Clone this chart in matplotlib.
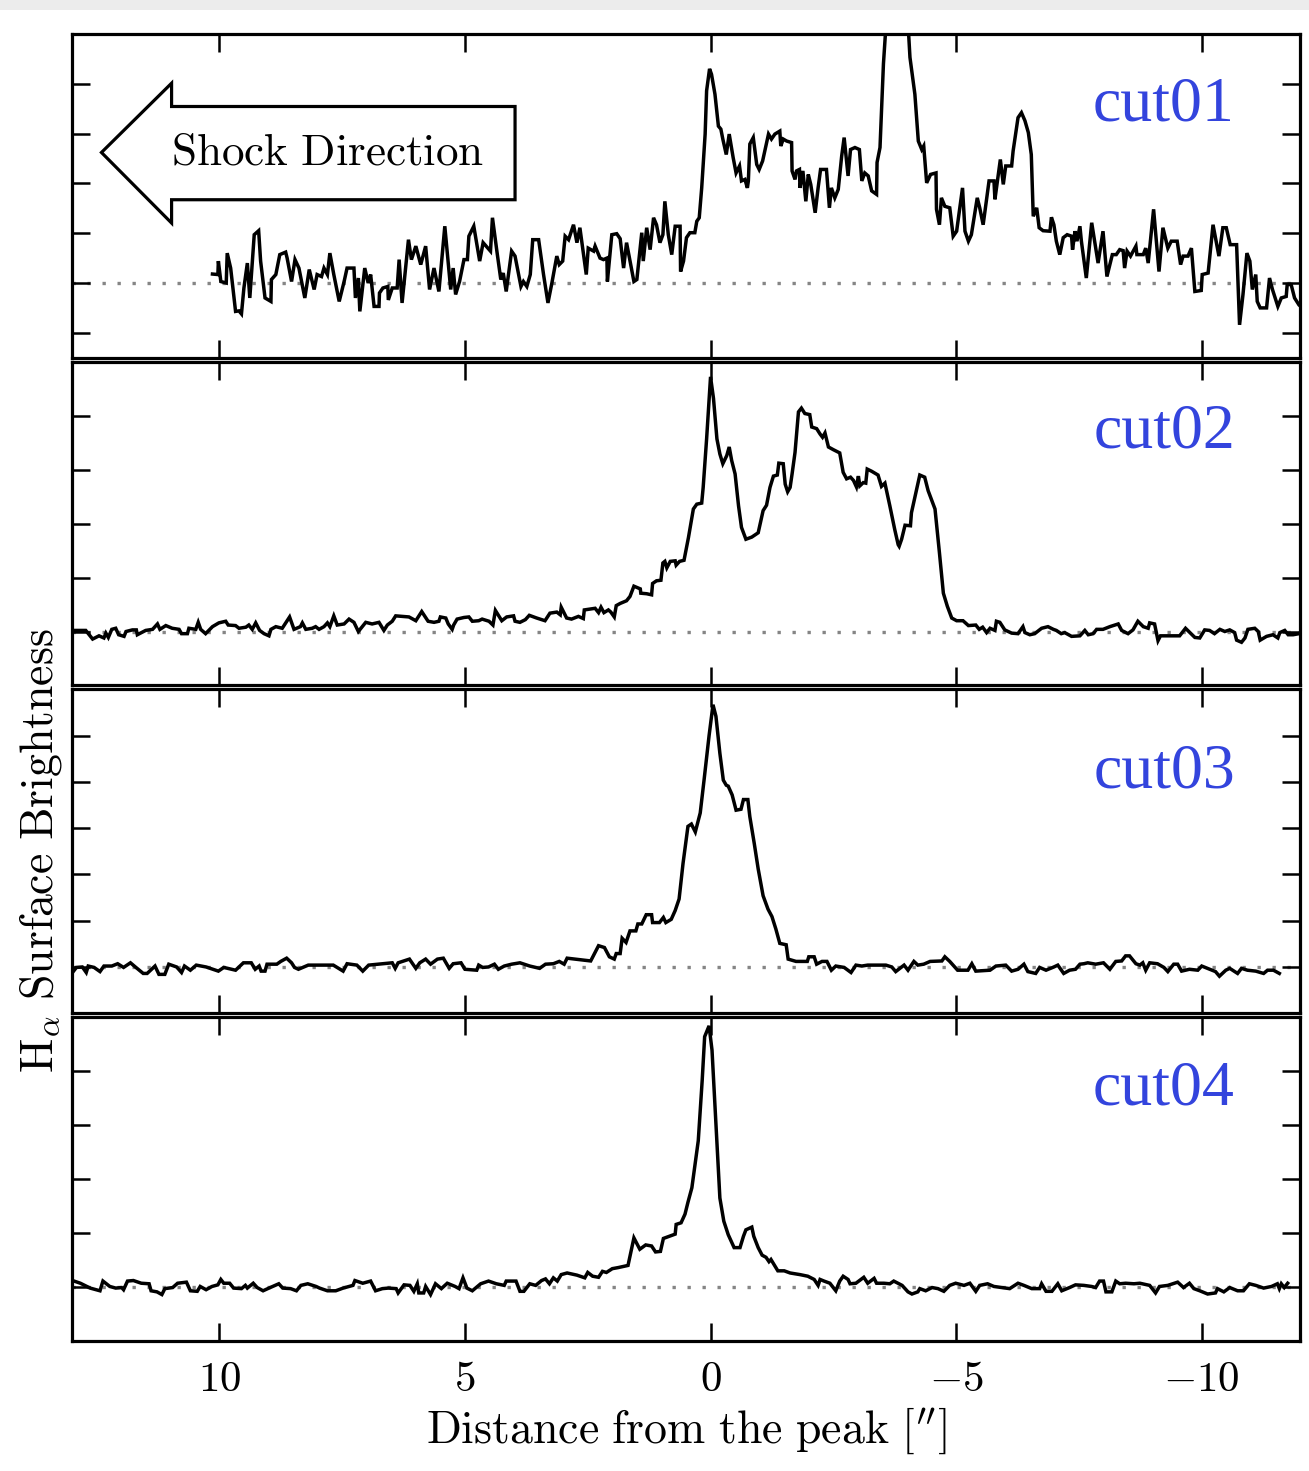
import numpy as np
import matplotlib
matplotlib.use("Agg")
import matplotlib.pyplot as plt
from matplotlib.patches import Polygon, Rectangle
from matplotlib.ticker import FixedLocator, FuncFormatter, MultipleLocator

plt.rcParams["mathtext.fontset"] = "cm"

# H-alpha surface-brightness profiles along four cuts: (offset ["], brightness)
cut01_profile = [
    (10.14, 0.18), (10.03, 0.17), (10.02, 0.44), (9.97, 0.03), (9.86, 0.00), (9.84, 0.60),
    (9.77, 0.30), (9.67, -0.57), (9.60, -0.56), (9.55, -0.62), (9.50, -0.10), (9.43, 0.40),
    (9.38, -0.30), (9.29, 0.97), (9.20, 1.05), (9.16, 0.44), (9.07, -0.30), (8.95, -0.37),
    (8.94, 0.07), (8.85, 0.17), (8.77, 0.57), (8.65, 0.62), (8.62, 0.50), (8.53, 0.03),
    (8.46, 0.47), (8.38, 0.30), (8.26, -0.30), (8.17, 0.27), (8.07, -0.13), (8.01, 0.17),
    (7.92, 0.13), (7.87, 0.30), (7.80, 0.17), (7.75, 0.60), (7.67, 0.17), (7.56, -0.37),
    (7.46, 0.03), (7.40, 0.30), (7.26, 0.30), (7.23, -0.30), (7.17, 0.10), (7.14, -0.57),
    (7.04, 0.30), (6.97, 0.00), (6.92, 0.17), (6.85, -0.47), (6.75, -0.47), (6.74, -0.20),
    (6.67, -0.10), (6.57, -0.07), (6.56, -0.34), (6.48, -0.10), (6.38, -0.10), (6.34, 0.47),
    (6.28, -0.40), (6.15, 0.87), (6.09, 0.47), (6.00, 0.74), (5.90, 0.37), (5.80, 0.74),
    (5.72, -0.13), (5.63, 0.30), (5.53, -0.17), (5.41, 1.14), (5.29, -0.13), (5.24, 0.30),
    (5.19, -0.23), (5.11, 0.03), (5.02, 0.47), (4.95, 0.47), (4.92, 0.94), (4.82, 1.14),
    (4.70, 0.44), (4.63, 0.81), (4.48, 0.64), (4.44, 1.31), (4.35, 0.64), (4.27, 0.07),
    (4.22, 0.20), (4.16, -0.17), (4.05, 0.64), (3.98, 0.54), (3.86, -0.07), (3.81, 0.03),
    (3.74, -0.07), (3.67, 0.17), (3.62, 0.87), (3.50, 0.87), (3.40, 0.17), (3.31, -0.40),
    (3.23, 0.00), (3.13, 0.54), (3.08, 0.37), (3.01, 0.44), (2.96, 0.94), (2.89, 0.87),
    (2.79, 1.17), (2.72, 0.81), (2.66, 1.11), (2.53, 0.17), (2.49, 0.70), (2.38, 0.64),
    (2.35, 0.74), (2.25, 0.50), (2.18, 0.47), (2.11, 0.50), (2.10, 0.03), (2.01, 0.97),
    (1.91, 0.99), (1.84, 0.89), (1.77, 0.30), (1.71, 0.81), (1.60, 0.23), (1.56, 0.03),
    (1.50, 0.07), (1.40, 1.01), (1.37, 0.44), (1.30, 1.11), (1.23, 0.67), (1.16, 1.31),
    (1.10, 1.17), (1.03, 0.81), (0.97, 0.97), (0.93, 1.64), (0.86, 0.97), (0.79, 0.57),
    (0.72, 1.14), (0.62, 1.14), (0.61, 0.23), (0.55, 0.44), (0.49, 0.91), (0.42, 1.01),
    (0.32, 1.01), (0.28, 1.24), (0.23, 1.31), (0.18, 1.91), (0.11, 2.99), (0.08, 3.86),
    (0.02, 4.30), (-0.02, 4.19), (-0.09, 3.79), (-0.16, 3.15), (-0.21, 3.09), (-0.25, 2.89),
    (-0.32, 2.58), (-0.38, 2.99), (-0.46, 2.52), (-0.52, 2.21), (-0.59, 2.35), (-0.63, 2.05),
    (-0.70, 2.08), (-0.75, 1.91), (-0.77, 2.05), (-0.80, 2.79), (-0.87, 2.92), (-0.94, 2.38),
    (-0.99, 2.28), (-1.06, 2.45), (-1.18, 2.99), (-1.24, 2.89), (-1.31, 2.99), (-1.41, 3.05),
    (-1.43, 2.75), (-1.48, 2.89), (-1.55, 2.85), (-1.65, 2.82), (-1.66, 2.25), (-1.72, 2.08),
    (-1.75, 2.25), (-1.81, 2.28), (-1.82, 1.91), (-1.88, 2.25), (-1.90, 2.05), (-1.94, 1.64),
    (-1.99, 2.18), (-2.04, 1.98), (-2.13, 1.41), (-2.19, 1.91), (-2.24, 2.28), (-2.36, 2.28),
    (-2.42, 1.51), (-2.46, 1.91), (-2.53, 1.71), (-2.60, 1.88), (-2.67, 2.55), (-2.72, 2.92),
    (-2.80, 2.15), (-2.85, 2.68), (-2.94, 2.72), (-3.03, 2.68), (-3.08, 2.05), (-3.14, 2.21),
    (-3.21, 2.15), (-3.28, 1.85), (-3.38, 1.78), (-3.39, 2.42), (-3.45, 2.72), (-3.52, 4.40),
    (-3.58, 5.30), (-3.70, 6.20), (-3.85, 6.60), (-3.97, 5.90), (-4.03, 5.05), (-4.06, 4.53),
    (-4.16, 3.79), (-4.23, 2.85), (-4.30, 2.68), (-4.34, 2.75), (-4.40, 2.01), (-4.48, 2.18),
    (-4.59, 2.21), (-4.60, 1.48), (-4.66, 1.17), (-4.70, 1.71), (-4.77, 1.54), (-4.87, 1.51),
    (-4.94, 0.94), (-5.01, 1.04), (-5.13, 1.91), (-5.18, 1.04), (-5.25, 0.84), (-5.31, 0.97),
    (-5.43, 1.71), (-5.48, 1.51), (-5.55, 1.17), (-5.67, 2.05), (-5.77, 2.05), (-5.79, 1.68),
    (-5.84, 2.05), (-5.90, 2.48), (-5.96, 1.98), (-6.01, 2.35), (-6.13, 2.35), (-6.16, 2.65),
    (-6.26, 3.32), (-6.33, 3.42), (-6.40, 3.26), (-6.47, 3.02), (-6.53, 2.58), (-6.57, 1.34),
    (-6.64, 1.51), (-6.69, 1.11), (-6.77, 1.05), (-6.91, 1.04), (-6.94, 1.32), (-6.99, 1.17),
    (-7.04, 0.84), (-7.11, 0.57), (-7.18, 0.91), (-7.26, 0.97), (-7.35, 0.94), (-7.37, 0.67),
    (-7.42, 1.04), (-7.46, 0.84), (-7.52, 1.14), (-7.55, 0.84), (-7.65, 0.10), (-7.76, 1.21),
    (-7.89, 0.40), (-7.99, 1.04), (-8.07, 0.13), (-8.18, 0.57), (-8.26, 0.57), (-8.33, 0.67),
    (-8.40, 0.65), (-8.43, 0.30), (-8.48, 0.64), (-8.55, 0.54), (-8.66, 0.74), (-8.68, 0.57),
    (-8.81, 0.57), (-8.86, 0.70), (-8.91, 0.40), (-9.02, 1.48), (-9.13, 0.23), (-9.21, 1.11),
    (-9.31, 0.70), (-9.38, 0.84), (-9.50, 0.84), (-9.57, 0.37), (-9.62, 0.54), (-9.72, 0.54),
    (-9.79, 0.70), (-9.86, -0.17), (-9.99, -0.15), (-10.01, 0.17), (-10.13, 0.20), (-10.23, 1.17),
    (-10.35, 0.54), (-10.43, 1.11), (-10.50, 1.11), (-10.58, 0.77), (-10.71, 0.77), (-10.77, -0.84),
    (-10.84, -0.23), (-10.92, 0.60), (-10.98, 0.44), (-11.03, -0.13), (-11.10, 0.17), (-11.13, -0.37),
    (-11.19, -0.50), (-11.32, -0.50), (-11.38, 0.10), (-11.44, -0.13), (-11.55, -0.47), (-11.62, -0.30),
    (-11.72, -0.27), (-11.74, -0.03), (-11.82, -0.03), (-11.89, -0.30), (-11.98, -0.44), (-12.05, -0.50),
]

cut02_profile = [
    (12.99, 0.02), (12.72, 0.02), (12.58, -0.14), (12.45, -0.08), (12.35, -0.12), (12.31, -0.03),
    (12.26, -0.11), (12.19, 0.04), (12.11, 0.06), (12.05, -0.06), (11.94, -0.09), (11.90, 0.00),
    (11.77, 0.03), (11.69, 0.03), (11.67, -0.06), (11.50, 0.02), (11.36, 0.04), (11.26, 0.14),
    (11.21, 0.04), (11.09, 0.11), (10.96, 0.06), (10.82, 0.04), (10.77, -0.04), (10.65, -0.04),
    (10.62, 0.06), (10.48, 0.04), (10.43, 0.17), (10.38, 0.04), (10.28, -0.04), (10.14, 0.09),
    (10.01, 0.16), (9.87, 0.19), (9.82, 0.12), (9.67, 0.11), (9.60, 0.06), (9.46, 0.08),
    (9.40, 0.12), (9.33, 0.04), (9.26, 0.16), (9.18, 0.02), (9.09, -0.04), (8.99, -0.08),
    (8.95, 0.04), (8.85, 0.09), (8.72, 0.06), (8.57, 0.27), (8.48, 0.04), (8.35, 0.09),
    (8.31, 0.16), (8.24, 0.04), (8.11, 0.06), (8.04, 0.09), (7.97, 0.04), (7.87, 0.09),
    (7.80, 0.16), (7.75, 0.09), (7.67, 0.29), (7.60, 0.12), (7.46, 0.14), (7.36, 0.23),
    (7.26, 0.17), (7.17, 0.00), (7.09, 0.09), (7.02, 0.17), (6.89, 0.14), (6.75, 0.17),
    (6.65, 0.02), (6.58, 0.12), (6.48, 0.19), (6.41, 0.29), (6.28, 0.28), (6.14, 0.27),
    (6.00, 0.20), (5.88, 0.37), (5.75, 0.19), (5.63, 0.17), (5.53, 0.19), (5.50, 0.27),
    (5.39, 0.25), (5.34, 0.14), (5.26, 0.04), (5.23, 0.12), (5.16, 0.23), (5.02, 0.26),
    (4.92, 0.27), (4.85, 0.19), (4.72, 0.20), (4.65, 0.23), (4.51, 0.19), (4.43, 0.12),
    (4.38, 0.39), (4.25, 0.20), (4.15, 0.27), (4.01, 0.29), (3.98, 0.19), (3.88, 0.17),
    (3.77, 0.22), (3.69, 0.30), (3.54, 0.25), (3.37, 0.20), (3.27, 0.34), (3.13, 0.36),
    (3.06, 0.31), (3.04, 0.45), (2.93, 0.25), (2.83, 0.23), (2.69, 0.28), (2.59, 0.24),
    (2.57, 0.40), (2.42, 0.42), (2.35, 0.43), (2.28, 0.35), (2.23, 0.45), (2.17, 0.35),
    (2.08, 0.40), (2.03, 0.36), (1.96, 0.27), (1.92, 0.48), (1.84, 0.52), (1.71, 0.57),
    (1.64, 0.65), (1.56, 0.84), (1.43, 0.79), (1.42, 0.71), (1.30, 0.70), (1.20, 0.68),
    (1.18, 0.89), (1.10, 0.94), (1.01, 0.95), (0.97, 1.27), (0.93, 1.30), (0.89, 1.18),
    (0.82, 1.30), (0.72, 1.31), (0.70, 1.23), (0.63, 1.30), (0.54, 1.32), (0.45, 1.74),
    (0.35, 2.27), (0.28, 2.36), (0.18, 2.38), (0.15, 2.67), (0.08, 3.57), (0.00, 4.72),
    (-0.06, 4.32), (-0.13, 3.57), (-0.19, 3.29), (-0.25, 3.11), (-0.33, 3.26), (-0.38, 3.42),
    (-0.43, 3.17), (-0.50, 2.92), (-0.57, 2.33), (-0.63, 1.93), (-0.72, 1.71), (-0.84, 1.75),
    (-0.97, 1.83), (-1.07, 2.24), (-1.14, 2.34), (-1.21, 2.67), (-1.28, 2.88), (-1.36, 2.90),
    (-1.39, 3.12), (-1.48, 3.11), (-1.52, 2.73), (-1.57, 2.59), (-1.62, 2.67), (-1.66, 2.92),
    (-1.72, 3.32), (-1.79, 4.07), (-1.85, 4.14), (-1.92, 4.04), (-2.02, 4.02), (-2.06, 3.79),
    (-2.16, 3.76), (-2.23, 3.66), (-2.28, 3.60), (-2.33, 3.68), (-2.40, 3.42), (-2.50, 3.37),
    (-2.63, 3.31), (-2.70, 2.95), (-2.77, 2.83), (-2.85, 2.86), (-2.91, 2.80), (-2.97, 2.68),
    (-3.01, 2.88), (-3.04, 2.70), (-3.11, 2.76), (-3.16, 2.75), (-3.19, 3.01), (-3.28, 2.97),
    (-3.41, 2.90), (-3.48, 2.69), (-3.55, 2.75), (-3.65, 2.33), (-3.75, 1.89), (-3.82, 1.61),
    (-3.84, 1.58), (-3.89, 1.71), (-3.96, 1.97), (-4.07, 1.96), (-4.09, 2.20), (-4.26, 2.90),
    (-4.36, 2.86), (-4.43, 2.61), (-4.57, 2.27), (-4.66, 1.46), (-4.74, 0.71), (-4.82, 0.47),
    (-4.91, 0.25), (-5.01, 0.20), (-5.14, 0.20), (-5.25, 0.11), (-5.40, 0.12), (-5.47, 0.04),
    (-5.54, 0.08), (-5.62, -0.02), (-5.69, 0.06), (-5.79, 0.02), (-5.82, 0.19), (-5.89, 0.17),
    (-5.99, 0.03), (-6.13, -0.03), (-6.26, -0.04), (-6.36, 0.09), (-6.40, -0.02), (-6.50, -0.06),
    (-6.60, -0.04), (-6.74, 0.06), (-6.87, 0.09), (-6.98, 0.04), (-7.04, 0.02), (-7.14, -0.04),
    (-7.21, -0.02), (-7.35, -0.09), (-7.52, -0.08), (-7.62, 0.02), (-7.69, -0.06), (-7.79, -0.04),
    (-7.86, 0.04), (-7.99, 0.04), (-8.13, 0.09), (-8.30, 0.14), (-8.37, 0.02), (-8.50, -0.04),
    (-8.60, 0.03), (-8.70, 0.19), (-8.81, 0.09), (-8.91, 0.06), (-8.94, 0.16), (-9.04, 0.14),
    (-9.11, -0.17), (-9.16, -0.08), (-9.35, -0.08), (-9.55, -0.08), (-9.62, 0.00), (-9.67, 0.06),
    (-9.76, -0.02), (-9.86, -0.11), (-9.96, -0.12), (-10.06, 0.03), (-10.16, 0.02), (-10.26, -0.04),
    (-10.37, 0.04), (-10.47, 0.00), (-10.57, 0.03), (-10.67, -0.02), (-10.71, -0.16), (-10.81, -0.20),
    (-10.88, -0.12), (-10.94, 0.04), (-11.08, 0.06), (-11.15, 0.00), (-11.19, -0.16), (-11.32, -0.09),
    (-11.45, -0.06), (-11.55, -0.12), (-11.59, -0.02), (-11.69, 0.02), (-11.76, -0.06), (-11.86, -0.06),
    (-11.98, -0.04), (-12.03, 0.00),
]

cut03_profile = [
    (12.99, -0.12), (12.91, -0.01), (12.79, 0.00), (12.71, -0.12), (12.67, 0.02), (12.55, -0.01),
    (12.43, -0.10), (12.35, 0.02), (12.19, 0.02), (12.07, 0.07), (11.95, -0.01), (11.81, 0.09),
    (11.71, 0.00), (11.55, -0.14), (11.47, -0.14), (11.31, 0.02), (11.23, -0.16), (11.11, -0.16),
    (11.03, 0.06), (10.87, 0.00), (10.77, -0.12), (10.71, 0.02), (10.59, -0.07), (10.47, 0.04),
    (10.27, 0.00), (10.02, -0.09), (9.91, -0.01), (9.67, -0.07), (9.51, 0.09), (9.35, 0.09),
    (9.27, -0.05), (9.19, 0.02), (9.15, -0.09), (9.07, -0.09), (9.03, 0.06), (8.83, 0.06),
    (8.75, 0.12), (8.63, 0.19), (8.53, 0.09), (8.47, -0.01), (8.39, -0.05), (8.19, 0.04),
    (7.68, 0.04), (7.48, -0.09), (7.40, 0.07), (7.20, 0.04), (7.08, -0.09), (6.96, 0.04),
    (6.68, 0.07), (6.48, 0.09), (6.42, -0.03), (6.36, 0.09), (6.13, 0.17), (6.00, -0.03),
    (5.92, 0.09), (5.80, 0.17), (5.70, 0.06), (5.56, 0.17), (5.44, 0.19), (5.32, -0.03),
    (5.24, 0.07), (5.08, 0.09), (5.00, -0.05), (4.76, -0.07), (4.72, 0.04), (4.64, -0.01),
    (4.52, 0.00), (4.40, 0.06), (4.32, -0.05), (4.20, 0.02), (4.05, 0.06), (3.88, 0.09),
    (3.68, 0.02), (3.48, -0.03), (3.36, 0.06), (3.20, 0.07), (3.08, 0.12), (2.98, 0.06),
    (2.92, 0.19), (2.44, 0.13), (2.28, 0.46), (2.16, 0.42), (2.06, 0.22), (1.96, 0.17),
    (1.92, 0.29), (1.84, 0.29), (1.80, 0.62), (1.72, 0.53), (1.64, 0.78), (1.52, 0.78),
    (1.48, 0.93), (1.40, 0.93), (1.31, 1.13), (1.20, 1.13), (1.18, 0.96), (1.04, 0.96),
    (0.96, 1.07), (0.91, 0.96), (0.80, 1.03), (0.72, 1.22), (0.64, 1.47), (0.56, 2.24),
    (0.46, 3.04), (0.39, 3.09), (0.31, 2.92), (0.21, 3.33), (0.13, 4.06), (0.03, 5.00),
    (-0.05, 5.67), (-0.11, 5.42), (-0.19, 4.62), (-0.26, 4.04), (-0.32, 3.93), (-0.36, 3.91),
    (-0.44, 3.72), (-0.52, 3.39), (-0.62, 3.41), (-0.67, 3.62), (-0.76, 3.62), (-0.80, 3.25),
    (-0.89, 2.67), (-0.97, 2.12), (-1.07, 1.54), (-1.17, 1.25), (-1.25, 1.09), (-1.33, 0.82),
    (-1.41, 0.51), (-1.54, 0.48), (-1.58, 0.17), (-1.74, 0.12), (-1.97, 0.12), (-2.00, 0.22),
    (-2.11, 0.22), (-2.16, 0.06), (-2.27, 0.12), (-2.37, 0.12), (-2.46, -0.07), (-2.55, 0.02),
    (-2.72, -0.01), (-2.86, -0.12), (-2.96, 0.04), (-3.08, 0.02), (-3.20, 0.04), (-3.37, 0.04),
    (-3.57, 0.04), (-3.69, 0.00), (-3.77, -0.10), (-3.94, 0.04), (-4.02, -0.07), (-4.14, 0.12),
    (-4.22, 0.04), (-4.34, 0.06), (-4.47, 0.12), (-4.71, 0.13), (-4.77, 0.22), (-4.87, 0.12),
    (-5.03, -0.07), (-5.24, -0.07), (-5.32, 0.07), (-5.40, -0.09), (-5.69, -0.07), (-5.81, 0.02),
    (-6.01, 0.04), (-6.13, -0.09), (-6.26, -0.05), (-6.38, 0.06), (-6.46, -0.10), (-6.62, -0.14),
    (-6.70, -0.01), (-6.83, -0.07), (-6.99, 0.00), (-7.07, 0.04), (-7.19, -0.14), (-7.31, -0.07),
    (-7.43, -0.05), (-7.52, 0.06), (-7.60, 0.07), (-7.68, 0.09), (-7.84, 0.06), (-8.00, 0.09),
    (-8.13, -0.05), (-8.25, 0.12), (-8.37, 0.13), (-8.45, 0.24), (-8.53, 0.24), (-8.66, 0.07),
    (-8.74, 0.04), (-8.80, 0.09), (-8.86, -0.07), (-8.94, 0.09), (-9.10, 0.07), (-9.23, -0.01),
    (-9.31, -0.10), (-9.43, 0.06), (-9.51, 0.06), (-9.59, -0.09), (-9.75, -0.05), (-9.92, -0.07),
    (-10.00, 0.02), (-10.16, -0.05), (-10.28, -0.10), (-10.36, -0.20), (-10.49, -0.07), (-10.57, -0.03),
    (-10.73, -0.14), (-10.81, -0.03), (-10.93, -0.07), (-11.10, -0.09), (-11.26, -0.14), (-11.34, -0.07),
    (-11.46, -0.07), (-11.58, -0.14),
]

cut04_profile = [
    (12.99, 0.12), (12.83, 0.07), (12.63, -0.02), (12.43, -0.07), (12.37, 0.11), (12.23, 0.01),
    (12.11, -0.02), (11.99, -0.01), (11.95, -0.05), (11.87, 0.11), (11.75, 0.12), (11.59, 0.07),
    (11.43, 0.06), (11.39, -0.07), (11.27, -0.09), (11.17, -0.14), (11.11, -0.03), (10.95, -0.01),
    (10.85, 0.07), (10.67, 0.09), (10.59, -0.07), (10.45, -0.08), (10.39, 0.01), (10.27, -0.05),
    (10.15, 0.01), (10.03, 0.04), (9.97, 0.14), (9.91, 0.07), (9.79, 0.07), (9.71, -0.02),
    (9.55, -0.03), (9.47, 0.03), (9.43, -0.02), (9.31, 0.07), (9.23, -0.01), (9.11, -0.07),
    (8.99, -0.02), (8.79, 0.06), (8.71, -0.02), (8.55, -0.03), (8.43, -0.07), (8.34, 0.03),
    (8.20, 0.06), (8.03, 0.01), (7.96, -0.02), (7.80, -0.07), (7.63, -0.07), (7.48, -0.02),
    (7.28, 0.03), (7.24, 0.12), (7.08, 0.07), (6.92, 0.11), (6.82, -0.07), (6.68, -0.03),
    (6.56, -0.02), (6.40, -0.03), (6.36, -0.11), (6.24, 0.04), (6.12, 0.03), (6.04, -0.08),
    (5.97, 0.06), (5.94, -0.11), (5.84, -0.11), (5.80, 0.01), (5.70, -0.14), (5.60, 0.06),
    (5.48, -0.03), (5.36, 0.07), (5.20, 0.01), (5.12, -0.03), (5.04, 0.17), (4.96, -0.02),
    (4.85, -0.07), (4.68, 0.06), (4.52, 0.11), (4.36, 0.06), (4.20, 0.03), (4.16, 0.11),
    (3.96, 0.11), (3.88, -0.08), (3.80, -0.08), (3.68, 0.06), (3.56, 0.03), (3.44, 0.12),
    (3.36, 0.15), (3.28, 0.06), (3.20, 0.17), (3.12, 0.11), (3.04, 0.23), (2.92, 0.26),
    (2.72, 0.22), (2.56, 0.17), (2.50, 0.27), (2.40, 0.20), (2.28, 0.18), (2.20, 0.29),
    (2.12, 0.27), (2.00, 0.34), (1.88, 0.36), (1.68, 0.40), (1.56, 0.91), (1.44, 0.70),
    (1.32, 0.78), (1.20, 0.76), (1.12, 0.65), (1.02, 0.66), (0.96, 0.90), (0.84, 0.94),
    (0.72, 0.98), (0.70, 1.16), (0.60, 1.19), (0.52, 1.35), (0.46, 1.57), (0.38, 1.84),
    (0.25, 2.71), (0.17, 3.83), (0.12, 4.64), (0.03, 4.84), (-0.03, 4.39), (-0.11, 3.02),
    (-0.19, 1.65), (-0.27, 1.22), (-0.36, 0.97), (-0.48, 0.73), (-0.60, 0.73), (-0.67, 0.94),
    (-0.72, 1.06), (-0.84, 1.11), (-0.88, 0.94), (-0.97, 0.73), (-1.05, 0.59), (-1.13, 0.55),
    (-1.19, 0.47), (-1.23, 0.51), (-1.29, 0.42), (-1.37, 0.30), (-1.50, 0.30), (-1.62, 0.26),
    (-1.82, 0.23), (-1.98, 0.20), (-2.11, 0.14), (-2.19, 0.03), (-2.23, 0.14), (-2.31, 0.11),
    (-2.43, 0.07), (-2.55, -0.07), (-2.63, 0.11), (-2.70, 0.20), (-2.80, 0.14), (-2.84, 0.06),
    (-2.96, 0.07), (-3.12, 0.18), (-3.20, 0.07), (-3.33, 0.16), (-3.38, 0.07), (-3.53, 0.07),
    (-3.65, 0.06), (-3.73, 0.11), (-3.90, 0.03), (-4.02, -0.09), (-4.10, -0.13), (-4.22, -0.09),
    (-4.26, -0.03), (-4.38, -0.07), (-4.51, -0.01), (-4.63, -0.03), (-4.75, -0.08), (-4.87, 0.03),
    (-4.99, 0.07), (-5.16, 0.03), (-5.28, 0.07), (-5.40, -0.08), (-5.48, 0.03), (-5.64, 0.06),
    (-5.77, 0.01), (-5.93, -0.01), (-6.09, -0.03), (-6.26, 0.07), (-6.38, 0.03), (-6.54, -0.03),
    (-6.70, -0.03), (-6.74, 0.06), (-6.83, -0.08), (-6.95, -0.08), (-7.07, 0.06), (-7.15, -0.07),
    (-7.31, -0.01), (-7.43, 0.04), (-7.60, 0.03), (-7.76, 0.01), (-7.84, -0.01), (-7.92, 0.11),
    (-8.00, 0.11), (-8.05, -0.09), (-8.17, -0.09), (-8.25, 0.11), (-8.33, 0.06), (-8.45, 0.07),
    (-8.62, 0.06), (-8.74, 0.07), (-8.94, 0.03), (-9.06, -0.11), (-9.14, 0.01), (-9.31, 0.03),
    (-9.51, 0.09), (-9.63, -0.01), (-9.75, 0.07), (-9.84, -0.03), (-9.96, -0.07), (-10.12, -0.13),
    (-10.28, -0.11), (-10.32, -0.03), (-10.45, -0.09), (-10.57, -0.01), (-10.73, -0.07), (-10.85, -0.07),
    (-10.97, 0.06), (-11.10, 0.03), (-11.26, -0.02), (-11.42, 0.01), (-11.54, 0.06), (-11.58, -0.03),
    (-11.62, 0.06), (-11.68, -0.01), (-11.75, 0.07),
]

cut_names = ["cut01", "cut02", "cut03", "cut04"]
cut_profiles = [cut01_profile, cut02_profile, cut03_profile, cut04_profile]
y_limits = [(-1.5, 5.0), (-1.0, 5.0), (-1.0, 6.0), (-1.0, 5.0)]
label_heights = [0.780, 0.782, 0.745, 0.778]
x_ticks = [10, 5, 0, -5, -10]
x_range = (13.0, -12.0)

LABEL_BLUE = "#3344dd"


def tex_number(v, pos=None):
    return r"$%d$" % v


fig = plt.figure(figsize=(13.09, 14.71), dpi=100)

# thin light band along the top edge of the canvas
fig.add_artist(Rectangle((0, 0.9935), 1, 0.0065, transform=fig.transFigure,
                         facecolor="#ececec", edgecolor="none", zorder=0))

gs = fig.add_gridspec(4, 1, left=0.0550, right=0.9931, top=0.9769,
                      bottom=0.0884, hspace=0.0124)

axes = []
for i, (name, prof, ylim, lh) in enumerate(zip(cut_names, cut_profiles, y_limits, label_heights)):
    ax = fig.add_subplot(gs[i])
    axes.append(ax)
    xy = np.array(prof)
    ax.axhline(0.0, color="#858585", lw=2.4, linestyle=(0, (1, 3.5)),
               dash_capstyle="butt", zorder=1)
    ax.plot(xy[:, 0], xy[:, 1], color="black", lw=2.5, zorder=2,
            solid_joinstyle="miter")
    ax.set_xlim(*x_range)
    ax.set_ylim(*ylim)
    ax.xaxis.set_major_locator(FixedLocator(x_ticks))
    ax.yaxis.set_major_locator(MultipleLocator(1.0))
    ax.tick_params(axis="both", which="major", direction="in", length=13, width=1.8,
                   top=True, bottom=True, left=True, right=True, labelleft=False)
    for sp in ax.spines.values():
        sp.set_linewidth(2.3)
    if i < 3:
        ax.tick_params(labelbottom=False)
    else:
        ax.xaxis.set_major_formatter(FuncFormatter(tex_number))
        ax.tick_params(axis="x", labelsize=31, pad=12)
    ax.text(0.947, lh, name, transform=ax.transAxes, ha="right", va="center",
            fontsize=46, color=LABEL_BLUE, family="Liberation Serif")

axes[-1].set_xlabel(r"$\mathrm{Distance\ from\ the\ peak\ [^{\prime\prime}]}$",
                    fontsize=33, labelpad=4)
fig.text(0.031, 0.422, r"$\mathrm{H}_{\alpha}\ \mathrm{Surface\ Brightness}$",
         rotation=90, ha="center", va="center", fontsize=33)

# Block arrow pointing in the shock direction
ax0 = axes[0]
arrow_outline = [(0.024, 0.634), (0.0811, 0.848), (0.0811, 0.776), (0.3608, 0.776),
                 (0.3608, 0.488), (0.0811, 0.488), (0.0811, 0.416)]
ax0.add_patch(Polygon(arrow_outline, closed=True, transform=ax0.transAxes,
                      facecolor="white", edgecolor="black", lw=2.3, zorder=5,
                      joinstyle="miter"))
ax0.text(0.2085, 0.634, r"$\mathrm{Shock\ Direction}$", transform=ax0.transAxes,
         ha="center", va="center", fontsize=32.5, zorder=6)

fig.savefig("out.png", dpi=100)
